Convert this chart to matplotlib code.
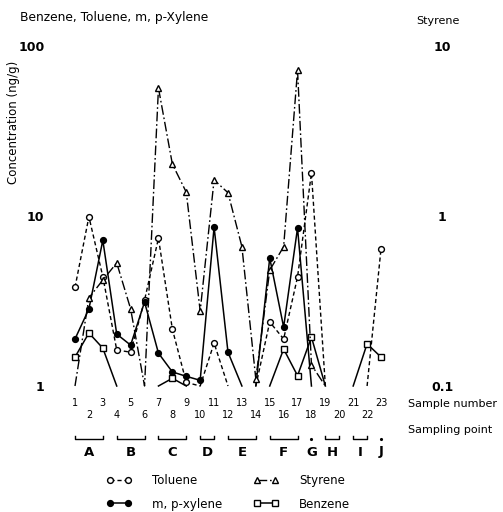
import numpy as np
import matplotlib.pyplot as plt
from matplotlib.ticker import NullLocator
from matplotlib.transforms import blended_transform_factory

# ND = not detected: the line drops to the baseline there
ND = np.nan
samples = list(range(1, 24))

toluene = [3.8, 9.9, 4.4, 1.63, 1.58, 3.2, 7.4, 2.16, 1.05, ND, 1.79, ND,
           ND, ND, 2.38, 1.89, 4.38, 17.9, ND, ND, ND, ND, 6.4]
xylene = [1.89, 2.84, 7.2, 2.02, 1.74, 3.12, 1.56, 1.21, 1.14, 1.08, 8.6, 1.58,
          ND, ND, 5.66, 2.22, 8.5, ND, ND, ND, ND, ND, ND]
benzene = [1.48, 2.05, 1.67, ND, ND, ND, ND, 1.11, ND, ND, ND, ND,
           ND, ND, ND, 1.65, 1.15, 1.94, ND, ND, ND, 1.77, 1.48]
# styrene is read on the right hand scale
styrene = [ND, 0.33, 0.42, 0.53, 0.284, ND, 5.66, 2.02, 1.38, 0.276, 1.63, 1.37,
           0.66, 0.11, 0.48, 0.66, 7.2, 0.133, ND, ND, ND, ND, ND]

groups = ['A', 'B', 'C', 'D', 'E', 'F', 'G', 'H', 'I', 'J']
group_first = [1, 4, 7, 10, 12, 15, 18, 19, 21, 23]
group_last = [3, 6, 9, 11, 14, 17, 18, 20, 22, 23]


def trace(values, base):
    # ND points sit on the baseline, no line between two ND neighbours
    xs, ys = [], []
    for i, v in enumerate(values):
        if np.isnan(v) and i > 0 and np.isnan(values[i - 1]):
            xs.append(np.nan)
            ys.append(np.nan)
        xs.append(samples[i])
        ys.append(base if np.isnan(v) else v)
    return xs, ys


fig = plt.figure(figsize=(5.03, 5.12), dpi=100)
ax = fig.add_axes([75 / 503, 1 - 386 / 512, 306 / 503, 340 / 512])
ax2 = ax.twinx()

ax.set_yscale('log')
ax2.set_yscale('log')
ax.set_ylim(1, 100)
ax2.set_ylim(0.1, 10)
ax.set_xlim(1, 23)

tol_dash = (0, (3, 2))
sty_dash = (0, (7, 2, 1.2, 2))

x, y = trace(toluene, 1)
l_tol, = ax.plot(x, y, color='black', lw=1, ls=tol_dash, clip_on=False)
m_tol, = ax.plot(samples, toluene, ls='none', marker='o', ms=4.2, mfc='white',
                 mec='black', mew=1, clip_on=False)

x, y = trace(xylene, 1)
l_xyl, = ax.plot(x, y, color='black', lw=1.1, clip_on=False)
m_xyl, = ax.plot(samples, xylene, ls='none', marker='o', ms=4.2, mfc='black',
                 mec='black', clip_on=False)

x, y = trace(benzene, 1)
l_ben, = ax.plot(x, y, color='black', lw=1.1, clip_on=False)
m_ben, = ax.plot(samples, benzene, ls='none', marker='s', ms=4.2, mfc='white',
                 mec='black', mew=1, clip_on=False)

x, y = trace(styrene, 0.1)
l_sty, = ax2.plot(x, y, color='black', lw=1, ls=sty_dash, clip_on=False)
m_sty, = ax2.plot(samples, styrene, ls='none', marker='^', ms=4.2, mfc='white',
                  mec='black', mew=1, clip_on=False)

for a in (ax, ax2):
    for s in a.spines.values():
        s.set_visible(False)
    a.yaxis.set_minor_locator(NullLocator())

ax.set_yticks([1, 10, 100], ['1', '10', '100'])
ax.tick_params(axis='y', length=0, pad=22, labelsize=9)
for t in ax.get_yticklabels():
    t.set_fontweight('bold')

ax2.set_yticks([0.1, 1, 10], ['0.1', '1', '10'])
ax2.tick_params(axis='y', length=0, pad=44, labelsize=9)
for t in ax2.get_yticklabels():
    t.set_fontweight('bold')
    t.set_horizontalalignment('center')

odd = samples[::2]
even = samples[1::2]
ax.set_xticks(odd, [str(s) for s in odd])
ax.set_xticks(even, [str(s) for s in even], minor=True)
ax.tick_params(axis='x', which='major', length=0, pad=9, labelsize=7)
ax.tick_params(axis='x', which='minor', length=0, pad=17, labelsize=7)

# sampling point brackets
trans = blended_transform_factory(ax.transData, fig.transFigure)
yb = 73 / 512
for g, a0, a1 in zip(groups, group_first, group_last):
    if a0 == a1:
        ax.plot([a0], [yb], marker='.', ms=2.5, color='black', transform=trans, clip_on=False)
    else:
        ax.plot([a0, a0, a1, a1], [yb + 0.006, yb, yb, yb + 0.006], color='black',
                lw=1, transform=trans, clip_on=False)
    ax.text((a0 + a1) / 2, 60 / 512, g, transform=trans, ha='center', va='center',
            fontsize=9.5, fontweight='bold')

fig.text(20 / 503, 1 - 17 / 512, 'Benzene, Toluene, m, p-Xylene', fontsize=8.8,
         ha='left', va='center')
fig.text(438 / 503, 1 - 21 / 512, 'Styrene', fontsize=8, ha='center', va='center')
fig.text(14 / 503, 1 - 122 / 512, 'Concentration (ng/g)', fontsize=8.5,
         rotation=90, ha='center', va='center')
fig.text(408 / 503, 1 - 404 / 512, 'Sample number', fontsize=8, ha='left', va='center')
fig.text(408 / 503, 1 - 430 / 512, 'Sampling point', fontsize=8, ha='left', va='center')

fig.legend([(l_tol, m_tol), (l_xyl, m_xyl), (l_sty, m_sty), (l_ben, m_ben)],
           ['Toluene', 'm, p-xylene', 'Styrene', 'Benzene'],
           ncol=2, loc='upper left', bbox_to_anchor=(106 / 503, 1 - 474 / 512),
           frameon=False, fontsize=8.5, numpoints=2, handlelength=2.2,
           handletextpad=1.7, columnspacing=2.6, labelspacing=0.9,
           borderpad=0, borderaxespad=0)

fig.savefig('out.png', dpi=100)
